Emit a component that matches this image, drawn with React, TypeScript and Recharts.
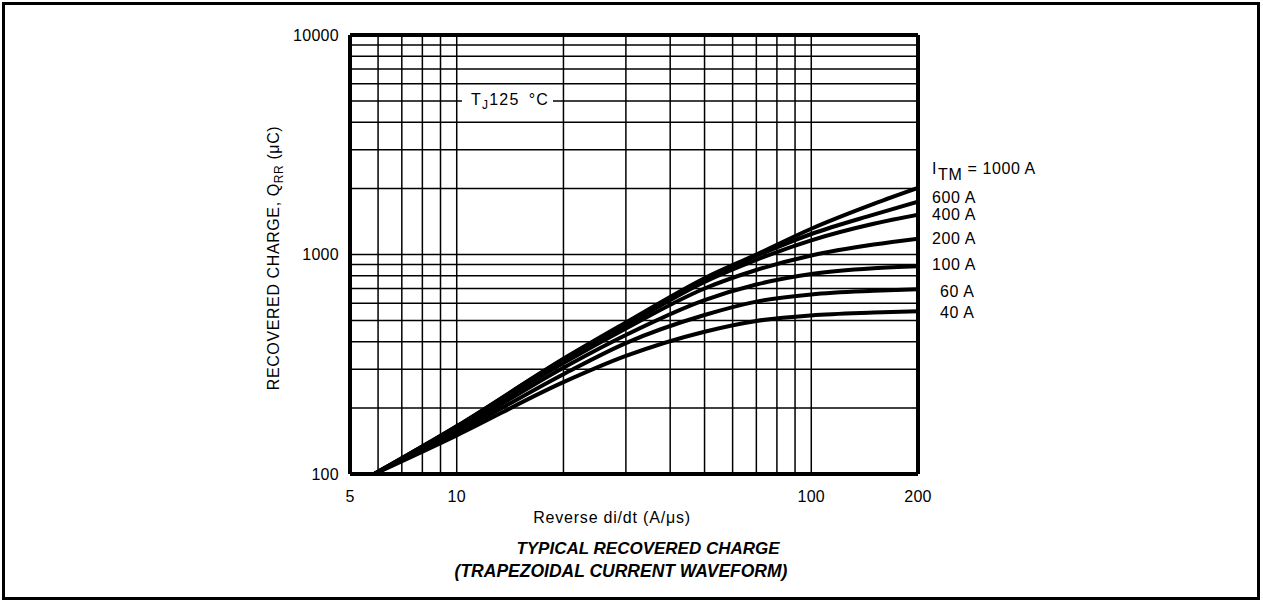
import React from 'react';
import { LineChart, Line, XAxis, YAxis, ReferenceLine } from 'recharts';

// reverse di/dt (A/us) sample points
const DIDT = [5.85, 10, 20, 30, 50, 70, 100, 150, 200];

// recovered charge (uC) per peak current
const Q_1000 = [100, 165, 335, 490, 780, 1000, 1310, 1700, 2010];
const Q_600 = [100, 165, 333, 485, 770, 985, 1240, 1520, 1740];
const Q_400 = [100, 163, 328, 475, 750, 945, 1160, 1380, 1517];
const Q_200 = [100, 162, 320, 460, 700, 850, 990, 1110, 1181];
const Q_100 = [100, 158, 305, 430, 620, 730, 815, 865, 883];
const Q_60 = [100, 154, 285, 395, 530, 610, 658, 683, 694];
const Q_40 = [100, 150, 262, 345, 445, 498, 528, 544, 552];

const SERIES = ['q1000', 'q600', 'q400', 'q200', 'q100', 'q60', 'q40'];
const CURVE_LABELS = ['600 A', '400 A', '200 A', '100 A', '60 A', '40 A'];

const X_TICKS = [5, 10, 100, 200];
const Y_TICKS = [100, 1000, 10000];
const X_GRID = [6, 7, 8, 9, 10, 20, 30, 40, 50, 60, 70, 80, 90, 100];
const Y_GRID = [200, 300, 400, 500, 600, 700, 800, 900, 1000, 2000, 3000, 4000, 5000, 6000, 7000, 8000, 9000];

const data = DIDT.map((x, i) => ({
  x,
  q1000: Q_1000[i],
  q600: Q_600[i],
  q400: Q_400[i],
  q200: Q_200[i],
  q100: Q_100[i],
  q60: Q_60[i],
  q40: Q_40[i],
}));

const FONT = '"Liberation Sans", Arial, Helvetica, sans-serif';

// label positions next to the curve ends
const labelPos = [
  { top: 198, left: 932 },
  { top: 215, left: 932 },
  { top: 239, left: 932 },
  { top: 265, left: 932 },
  { top: 292, left: 940 },
  { top: 313, left: 940 },
];

const App: React.FC = () => {
  const tickStyle = { fill: '#000', fontSize: 16, fontFamily: FONT, letterSpacing: 0.3 };
  const labelCss: React.CSSProperties = {
    position: 'absolute',
    fontFamily: FONT,
    fontSize: 16,
    lineHeight: 1,
    letterSpacing: 0.6,
    color: '#000',
    whiteSpace: 'nowrap',
    transform: 'translateY(-50%)',
  };

  return (
    <div style={{ position: 'absolute', left: 0, top: 0, width: 1263, height: 604, background: '#fff' }}>
      <div
        style={{
          position: 'absolute',
          left: 2,
          top: 2,
          width: 1258,
          height: 598,
          border: '3px solid #000',
          boxSizing: 'border-box',
        }}
      />
      <div style={{ position: 'absolute', left: 0, top: 0 }}>
        <LineChart width={1263} height={604} data={data} margin={{ top: 35, right: 345, bottom: 100, left: 290 }}>
          <XAxis
            dataKey="x"
            type="number"
            scale="log"
            domain={[5, 200]}
            ticks={X_TICKS}
            axisLine={false}
            tickLine={false}
            tickMargin={11}
            height={30}
            tick={tickStyle}
            allowDataOverflow
          />
          <YAxis
            type="number"
            scale="log"
            domain={[100, 10000]}
            ticks={Y_TICKS}
            axisLine={false}
            tickLine={false}
            tickMargin={5}
            width={60}
            tick={tickStyle}
            allowDataOverflow
          />
          {X_GRID.map(v => (
            <ReferenceLine key={`gx-${v}`} x={v} stroke="#000" strokeWidth={1.5} />
          ))}
          {Y_GRID.map(v => (
            <ReferenceLine key={`gy-${v}`} y={v} stroke="#000" strokeWidth={1.5} />
          ))}
          {SERIES.map(k => (
            <Line
              key={k}
              dataKey={k}
              type="monotone"
              stroke="#000"
              strokeWidth={4}
              dot={false}
              isAnimationActive={false}
            />
          ))}
          <ReferenceLine x={5} stroke="#000" strokeWidth={4} />
          <ReferenceLine x={200} stroke="#000" strokeWidth={4} />
          <ReferenceLine y={100} stroke="#000" strokeWidth={4} />
          <ReferenceLine y={10000} stroke="#000" strokeWidth={4} />
        </LineChart>
      </div>

      {/* junction temperature note */}
      <div
        style={{
          position: 'absolute',
          left: 462,
          top: 101,
          transform: 'translateY(-50%)',
          background: '#fff',
          padding: '2px 4px 2px 9px',
          fontFamily: FONT,
          fontSize: 16,
          lineHeight: 1,
          letterSpacing: 1.2,
          whiteSpace: 'nowrap',
        }}
      >
        T<sub style={{ fontSize: 12, verticalAlign: -4 }}>J</sub>125{'\u2002'}°C
      </div>

      {/* curve labels */}
      <div style={{ ...labelCss, left: 932, top: 172 }}>
        I<sub style={{ fontSize: 16, verticalAlign: -6, marginLeft: 1 }}>TM</sub> = 1000 A
      </div>
      {CURVE_LABELS.map((t, i) => (
        <div key={t} style={{ ...labelCss, left: labelPos[i].left, top: labelPos[i].top }}>
          {t}
        </div>
      ))}

      {/* y axis title */}
      <div
        style={{
          position: 'absolute',
          left: 275,
          top: 258,
          transform: 'translate(-50%, -50%) rotate(-90deg)',
          fontFamily: FONT,
          fontSize: 16,
          lineHeight: 1,
          letterSpacing: 0.6,
          whiteSpace: 'nowrap',
        }}
      >
        RECOVERED CHARGE, Q<sub style={{ fontSize: 12, verticalAlign: -4 }}>RR</sub> (μC)
      </div>

      {/* x axis title */}
      <div
        style={{
          position: 'absolute',
          left: 612,
          top: 518,
          transform: 'translate(-50%, -50%)',
          fontFamily: FONT,
          fontSize: 16,
          lineHeight: 1,
          letterSpacing: 0.8,
          whiteSpace: 'nowrap',
        }}
      >
        Reverse di/dt (A/μs)
      </div>

      {/* caption */}
      <div
        style={{
          position: 'absolute',
          left: 648,
          top: 548,
          transform: 'translate(-50%, -50%)',
          fontFamily: FONT,
          fontSize: 17,
          fontWeight: 'bold',
          fontStyle: 'italic',
          lineHeight: 1,
          whiteSpace: 'nowrap',
        }}
      >
        TYPICAL RECOVERED CHARGE
      </div>
      <div
        style={{
          position: 'absolute',
          left: 621,
          top: 572,
          transform: 'translate(-50%, -50%)',
          fontFamily: FONT,
          fontSize: 17.5,
          fontWeight: 'bold',
          fontStyle: 'italic',
          lineHeight: 1,
          whiteSpace: 'nowrap',
        }}
      >
        (TRAPEZOIDAL CURRENT WAVEFORM)
      </div>
    </div>
  );
};

export default App;
